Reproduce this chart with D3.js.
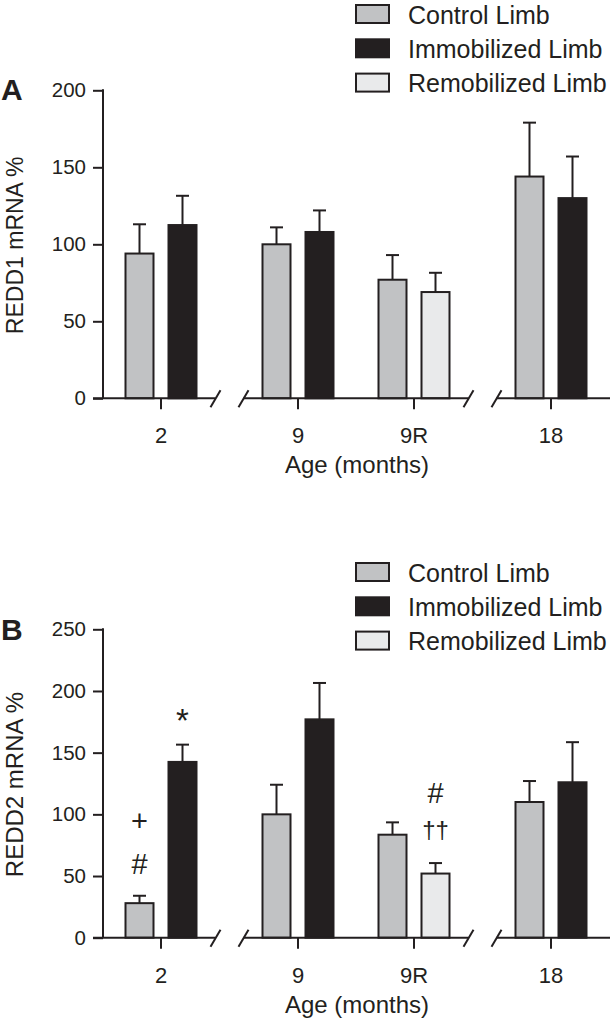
<!DOCTYPE html>
<html>
<head>
<meta charset="utf-8">
<script src="https://cdn.jsdelivr.net/npm/d3@7"></script>
<style>
  html, body { margin: 0; padding: 0; background: #fff; }
  svg { display: block; }
  text { font-family: "Liberation Sans", Arial, Helvetica, sans-serif; fill: #231f20; }
</style>
</head>
<body>
<svg id="chart" width="612" height="1020"></svg>
<script>
// ---------------- DATA ----------------
const categories = ["2", "9", "9R", "18"];
const segments = [0, 1, 1, 2];            // axis-break segment of each category
const secondType = ["Immobilized Limb", "Immobilized Limb", "Remobilized Limb", "Immobilized Limb"];
const legendLabels = ["Control Limb", "Immobilized Limb", "Remobilized Limb"];

// Panel A: REDD1 mRNA %
const redd1Control = [94, 100, 77, 144];
const redd1ControlErr = [19, 11, 16, 35];
const redd1Second = [112.5, 108, 69, 130];
const redd1SecondErr = [19, 14, 12.5, 27];
const redd1Ticks = [0, 50, 100, 150, 200];

// Panel B: REDD2 mRNA %
const redd2Control = [28, 100, 83.5, 110];
const redd2ControlErr = [6, 24, 10, 17];
const redd2Second = [142.5, 177, 52, 126];
const redd2SecondErr = [14, 29.5, 8.5, 32.5];
const redd2Ticks = [0, 50, 100, 150, 200, 250];

// significance marks (category, bar 0=control 1=second, text, y in data units)
const redd2Marks = [
  { cat: "2", bar: 0, text: "#", v: 52, size: 29 },
  { cat: "2", bar: 0, text: "+", v: 86.5, size: 29 },
  { cat: "2", bar: 1, text: "*", v: 167, size: 33 },
  { cat: "9R", bar: 1, text: "††", v: 81, size: 24 },
  { cat: "9R", bar: 1, text: "#", v: 109, size: 29 }
];

// ---------------- STYLE ----------------
const INK = "#231f20";
const fills = {
  "Control Limb": "#c1c2c4",
  "Immobilized Limb": "#231f20",
  "Remobilized Limb": "#e9eaeb"
};

const svg = d3.select("#chart");

// slot positions with extra room at each axis break
const gapRatio = 21 / 116;
const slot = categories.map((c, i) => i + segments[i] * gapRatio);
const x = d3.scaleLinear()
  .domain([0, d3.max(slot)])
  .range([161, 551]);
const catX = c => x(slot[categories.indexOf(c)]);
const barOffset = 21.5;
const barW = 28;

function drawPanel(opt) {
  const g = svg.append("g");
  const y = d3.scaleLinear().domain([0, opt.max]).range([opt.bottom, opt.top]);
  const axisX = 103;

  const rows = [];
  categories.forEach((c, i) => {
    rows.push({ c, i, bar: 0, v: opt.control[i], e: opt.controlErr[i], type: "Control Limb" });
    rows.push({ c, i, bar: 1, v: opt.second[i], e: opt.secondErr[i], type: secondType[i] });
  });
  const cx = d => catX(d.c) + (d.bar === 0 ? -barOffset : barOffset);

  // error bars
  g.selectAll("line.err").data(rows).join("line")
    .attr("x1", cx).attr("x2", cx)
    .attr("y1", d => y(d.v)).attr("y2", d => y(d.v + d.e))
    .attr("stroke", INK).attr("stroke-width", 2);
  g.selectAll("line.cap").data(rows).join("line")
    .attr("x1", d => cx(d) - 6.5).attr("x2", d => cx(d) + 6.5)
    .attr("y1", d => y(d.v + d.e)).attr("y2", d => y(d.v + d.e))
    .attr("stroke", INK).attr("stroke-width", 2);

  g.selectAll("rect.bar").data(rows).join("rect")
    .attr("x", d => cx(d) - barW / 2)
    .attr("width", barW)
    .attr("y", d => y(d.v))
    .attr("height", d => y(0) - y(d.v))
    .attr("fill", d => fills[d.type])
    .attr("stroke", INK).attr("stroke-width", 2);

  // y axis
  const yAxis = d3.axisLeft(y).tickValues(opt.ticks).tickSize(10).tickPadding(7).tickFormat(d3.format("d"));
  const ya = g.append("g").attr("transform", `translate(${axisX},0)`).call(yAxis);
  ya.attr("font-size", null).attr("font-family", null);
  ya.select(".domain").remove();
  ya.selectAll(".tick line").attr("stroke", INK).attr("stroke-width", 2);
  ya.selectAll(".tick text").style("font-size", "20.5px").style("fill", INK);
  g.append("line").attr("x1", axisX).attr("x2", axisX)
    .attr("y1", y(opt.max) - 1).attr("y2", y(0))
    .attr("stroke", INK).attr("stroke-width", 2);

  // x axis with breaks
  const y0 = y(0);
  const breaks = [];
  for (let i = 0; i < categories.length - 1; i++) {
    if (segments[i] !== segments[i + 1]) breaks.push((catX(categories[i]) + catX(categories[i + 1])) / 2);
  }
  const half = 14;
  const segs = [];
  let start = axisX - 10;
  breaks.forEach(b => { segs.push([start, b - half]); start = b + half; });
  segs.push([start, 610]);
  g.selectAll("line.xseg").data(segs).join("line")
    .attr("x1", d => d[0]).attr("x2", d => d[1])
    .attr("y1", y0).attr("y2", y0)
    .attr("stroke", INK).attr("stroke-width", 2);
  const slashes = [];
  breaks.forEach(b => { slashes.push(b - half); slashes.push(b + half); });
  g.selectAll("line.slash").data(slashes).join("line")
    .attr("x1", d => d - 5).attr("x2", d => d + 5)
    .attr("y1", y0 + 9).attr("y2", y0 - 8)
    .attr("stroke", INK).attr("stroke-width", 2);

  // x ticks & labels
  g.selectAll("line.xtick").data(categories).join("line")
    .attr("x1", catX).attr("x2", catX)
    .attr("y1", y0).attr("y2", y0 + 11)
    .attr("stroke", INK).attr("stroke-width", 2);
  g.selectAll("text.xlab").data(categories).join("text")
    .attr("x", catX).attr("y", y0 + 45)
    .attr("text-anchor", "middle").style("font-size", "22px")
    .text(d => d);
  g.append("text").attr("x", 357).attr("y", y0 + 75)
    .attr("text-anchor", "middle").style("font-size", "24px")
    .text("Age (months)");

  // y title
  g.append("text")
    .attr("transform", `translate(23,${(opt.top + opt.bottom) / 2 + 1}) rotate(-90)`)
    .attr("text-anchor", "middle").style("font-size", opt.titleSize + "px")
    .text(opt.title);

  // panel letter
  g.append("text").attr("x", 1).attr("y", opt.letterY)
    .style("font-size", "30px").attr("font-weight", "bold")
    .text(opt.letter);

  // legend
  const lg = g.append("g");
  legendLabels.forEach((l, k) => {
    const ty = opt.legendTop + k * 34.3;
    if (k === 1) {
      lg.append("rect").attr("x", 355).attr("y", ty - 1).attr("width", 35).attr("height", 20)
        .attr("fill", fills[l]);
    } else {
      lg.append("rect").attr("x", 356).attr("y", ty).attr("width", 33).attr("height", 18)
        .attr("fill", fills[l]).attr("stroke", INK).attr("stroke-width", 2);
    }
    lg.append("text").attr("x", 408).attr("y", ty + 18.5).style("font-size", "25px").text(l);
  });

  // marks
  if (opt.marks) {
    g.selectAll("text.mark").data(opt.marks).join("text")
      .attr("x", d => catX(d.cat) + (d.bar === 0 ? -barOffset : barOffset))
      .attr("y", d => y(d.v))
      .attr("text-anchor", "middle")
      .style("font-size", d => d.size + "px")
      .text(d => d.text);
  }
}

drawPanel({
  letter: "A", letterY: 100, title: "REDD1 mRNA %", titleSize: 23,
  top: 90.3, bottom: 398.3, max: 200, ticks: redd1Ticks,
  control: redd1Control, controlErr: redd1ControlErr, second: redd1Second, secondErr: redd1SecondErr,
  legendTop: 5
});
drawPanel({
  letter: "B", letterY: 640, title: "REDD2 mRNA %", titleSize: 24,
  top: 629.3, bottom: 937.7, max: 250, ticks: redd2Ticks,
  control: redd2Control, controlErr: redd2ControlErr, second: redd2Second, secondErr: redd2SecondErr,
  legendTop: 563, marks: redd2Marks
});
</script>
</body>
</html>
